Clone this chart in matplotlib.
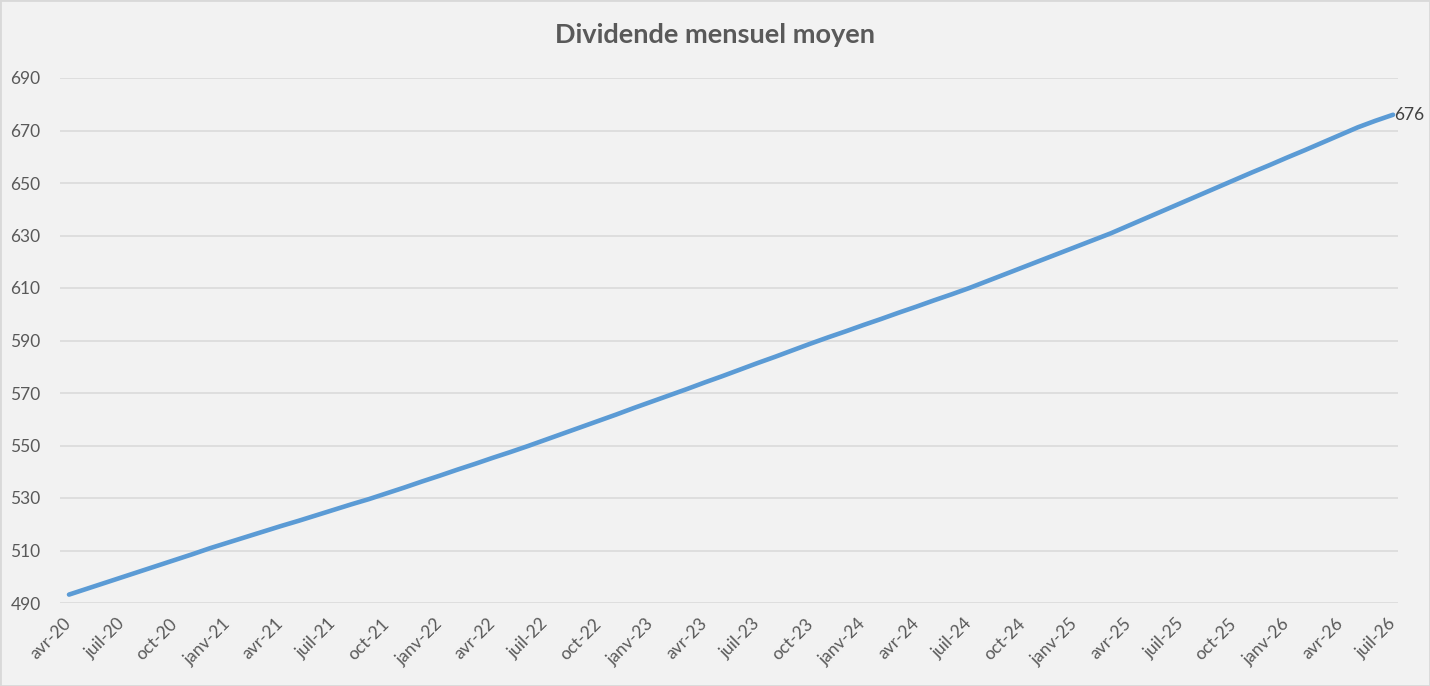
import matplotlib
matplotlib.use("Agg")
import matplotlib.pyplot as plt
from matplotlib.patches import Rectangle

plt.rcParams['font.family'] = ['Lato', 'DejaVu Sans']

# dividende mensuel moyen, un point par mois d'avril 2020 à juillet 2026
valeurs = [
    493.2, 495.4, 497.6, 499.8, 502.0, 504.2, 506.4, 508.6, 510.9, 513.0,
    515.1, 517.2, 519.3, 521.3, 523.4, 525.5, 527.6, 529.6, 531.8, 534.0,
    536.3, 538.5, 540.8, 543.0, 545.3, 547.5, 549.8, 552.2, 554.6, 557.0,
    559.4, 561.8, 564.3, 566.7, 569.1, 571.5, 574.0, 576.4, 578.9, 581.4,
    583.8, 586.3, 588.8, 591.2, 593.5, 595.9, 598.2, 600.6, 602.9, 605.3,
    607.6, 610.0, 612.6, 615.2, 617.8, 620.4, 623.0, 625.6, 628.2, 630.8,
    633.7, 636.6, 639.5, 642.4, 645.3, 648.2, 651.1, 654.0, 656.8, 659.7,
    662.5, 665.4, 668.3, 671.2, 673.7, 676.0,
]
etiquettes_mois = [
    'avr-20', 'juil-20', 'oct-20', 'janv-21', 'avr-21', 'juil-21', 'oct-21',
    'janv-22', 'avr-22', 'juil-22', 'oct-22', 'janv-23', 'avr-23', 'juil-23',
    'oct-23', 'janv-24', 'avr-24', 'juil-24', 'oct-24', 'janv-25', 'avr-25',
    'juil-25', 'oct-25', 'janv-26', 'avr-26', 'juil-26',
]
graduations_y = [490, 510, 530, 550, 570, 590, 610, 630, 650, 670, 690]

fond = '#f2f2f2'
gris_texte = '#595959'

fig = plt.figure(figsize=(14.3, 6.86), dpi=100)
fig.patch.set_facecolor(fond)
ax = fig.add_axes([60 / 1430, 1 - 603 / 686, 1338 / 1430, 525 / 686])
ax.set_facecolor(fond)

mois = list(range(len(valeurs)))
ax.plot(mois, valeurs, color='#5b9bd5', linewidth=3.3, solid_capstyle='round')
ax.annotate(f'{valeurs[-1]:.0f}', (mois[-1], valeurs[-1]), xytext=(1, 0),
            textcoords='offset points', va='center', ha='left',
            fontsize=12.5, color='#404040')

ax.set_xlim(-0.51, 75.28)
ax.set_ylim(490, 690)
ax.set_yticks(graduations_y)
ax.set_xticks(mois[::3])
ax.set_xticklabels(etiquettes_mois, rotation=45, ha='right', va='center',
                   rotation_mode='anchor')
ax.tick_params(axis='y', length=0, pad=14, labelsize=12.5, labelcolor=gris_texte)
ax.tick_params(axis='x', length=0, pad=13, labelsize=12.5, labelcolor=gris_texte)
ax.grid(axis='y', color='#d9d9d9', linewidth=1.1)
ax.set_axisbelow(True)
for spine in ax.spines.values():
    spine.set_visible(False)

fig.text(0.5, 1 - 35 / 686, 'Dividende mensuel moyen', ha='center', va='center',
         fontsize=19.5, fontweight='bold', color=gris_texte)

fig.patches.append(Rectangle((0, 0), 1, 1, transform=fig.transFigure, fill=False,
                             edgecolor='#d9d9d9', linewidth=2))

fig.savefig('out.png', dpi=100, facecolor=fond)
